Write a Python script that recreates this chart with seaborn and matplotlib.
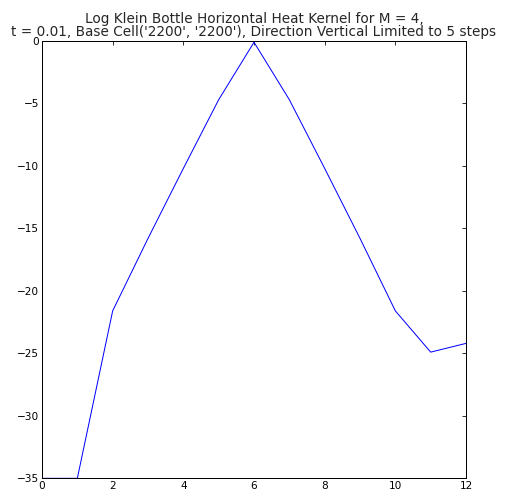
import matplotlib
matplotlib.use("Agg")
import matplotlib.pyplot as plt
import seaborn as sns
import pandas as pd

steps = [0, 1, 2, 3, 4, 5, 6, 7, 8, 9, 10, 11, 12]
log_kernel = [-35.0, -35.0, -21.6, -15.8, -10.2, -4.7, -0.1, -4.7, -10.2, -15.8, -21.6, -24.9, -24.2]
title = ("Log Klein Bottle Horizontal Heat Kernel for M = 4,\n"
         "t = 0.01, Base Cell('2200', '2200'), Direction Vertical Limited to 5 steps")

sns.set_style("white", {
    "xtick.direction": "in", "ytick.direction": "in",
    "axes.edgecolor": "black", "xtick.color": "black", "ytick.color": "black",
})
plt.rcParams["font.family"] = ["DejaVu Sans"]
plt.rcParams["xtick.top"] = True
plt.rcParams["ytick.right"] = True

df = pd.DataFrame({"step": steps, "value": log_kernel})

fig = plt.figure(figsize=(506 / 72, 498 / 72), dpi=72)
ax = fig.add_axes([0.083, 0.0395, 0.838, 0.8782])
sns.lineplot(data=df, x="step", y="value", ax=ax, color="#0000ff", linewidth=1.0)
ax.set_xlim(0, 12)
ax.set_ylim(-35, 0)
ax.set_xticks([0, 2, 4, 6, 8, 10, 12])
ax.set_yticks([0, -5, -10, -15, -20, -25, -30, -35])
ax.set_xlabel("")
ax.set_ylabel("")
ax.tick_params(axis="both", which="major", labelsize=10.5, length=4, width=0.8,
               top=True, right=True, direction="in", pad=3)
for s in ax.spines.values():
    s.set_linewidth(1.0)
    s.set_color("black")
ax.set_title(title, fontsize=13.6, pad=5, linespacing=0.95)
fig.savefig("out.png", dpi=72)
